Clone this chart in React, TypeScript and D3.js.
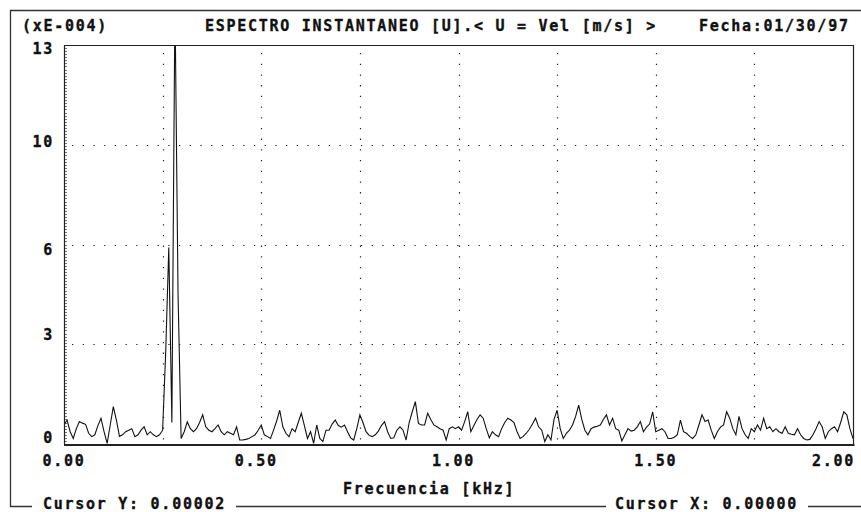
import React, { useEffect, useRef } from "react";
import * as d3 from "d3";

// amplitude of the spectrum, (xE-004), one value every 2/256 kHz
const amplitude: number[] = [
  0.62, 0.78, 0.4, 0.18, 0.5, 0.73, 0.68, 0.64, 0.35, 0.24,
  0.3, 0.6, 0.84, 0.4, 0.02, 0.62, 1.22, 0.78, 0.25, 0.3,
  0.4, 0.45, 0.5, 0.24, 0.3, 0.45, 0.56, 0.3, 0.4, 0.3,
  0.24, 0.3, 0.45, 3.0, 6.4, 0.7, 14.5, 4.9, 0.18, 0.4,
  0.72, 0.5, 0.4, 0.5, 0.7, 0.95, 0.56, 0.45, 0.4, 0.5,
  0.62, 0.4, 0.3, 0.4, 0.35, 0.3, 0.56, 0.13, 0.13, 0.15,
  0.18, 0.24, 0.3, 0.45, 0.62, 0.3, 0.24, 0.18, 0.45, 0.75,
  1.1, 0.56, 0.35, 0.24, 0.5, 0.4, 0.7, 1.0, 0.6, 0.18,
  0.4, 0.02, 0.62, 0.18, 0.08, 0.45, 0.45, 0.65, 0.78, 0.6,
  0.55, 0.62, 0.4, 0.2, 0.13, 0.5, 0.95, 0.7, 0.4, 0.28,
  0.24, 0.3, 0.42, 0.6, 0.73, 0.4, 0.18, 0.2, 0.45, 0.56,
  0.45, 0.13, 0.7, 1.05, 1.38, 0.67, 0.62, 0.62, 1.0, 0.8,
  0.62, 0.56, 0.5, 0.45, 0.13, 0.5, 0.56, 0.5, 0.56, 0.45,
  0.73, 1.05, 0.4, 0.6, 0.8, 0.95, 0.84, 0.5, 0.2, 0.4,
  0.3, 0.24, 0.5, 0.7, 0.84, 0.78, 0.7, 0.4, 0.18, 0.25,
  0.35, 0.48, 0.65, 0.84, 0.56, 0.45, 0.08, 0.3, 0.13, 0.8,
  1.1, 0.5, 0.18, 0.35, 0.45, 0.62, 0.9, 1.27, 0.8, 0.45,
  0.3, 0.5, 0.55, 0.58, 0.62, 0.8, 0.95, 0.62, 0.84, 0.5,
  0.45, 0.1, 0.3, 0.5, 0.42, 0.45, 0.56, 0.73, 0.4, 0.55,
  0.65, 1.05, 0.4, 0.45, 0.5, 0.4, 0.18, 0.18, 0.22, 0.3,
  0.78, 0.4, 0.35, 0.25, 0.18, 0.3, 0.62, 0.95, 0.73, 0.78,
  0.45, 0.18, 0.4, 0.55, 0.62, 1.05, 0.84, 0.5, 0.3, 0.9,
  0.5, 0.3, 0.18, 0.5, 0.4, 0.62, 0.45, 0.84, 0.5, 0.56,
  0.4, 0.5, 0.4, 0.35, 0.56, 0.35, 0.32, 0.3, 0.5, 0.3,
  0.18, 0.13, 0.15, 0.3, 0.5, 0.73, 0.56, 0.18, 0.4, 0.5,
  0.56, 0.4, 0.7, 1.05, 0.95, 0.5, 0.18,
];
const freqMax = 2;
const ampMax = 13;

const yGridValues = [0, 3.25, 6.5, 9.75, 13];
const yTickLabels = ["0", "3", "6", "10", "13"];
const xGridValues = [0.25, 0.5, 0.75, 1, 1.25, 1.5, 1.75];
const xTickValues = [0, 0.5, 1, 1.5, 2];
const xTickLabels = ["0.00", "0.50", "1.00", "1.50", "2.00"];

const unitsLabel = "(xE-004)";
const title = "ESPECTRO INSTANTANEO [U].< U = Vel [m/s] >";
const dateLabel = "Fecha:01/30/97";
const xAxisTitle = "Frecuencia [kHz]";
const cursorY = "Cursor Y: 0.00002";
const cursorX = "Cursor X: 0.00000";

export default function App() {
  const ref = useRef<SVGSVGElement>(null);

  useEffect(() => {
    const width = 861;
    const height = 512;
    const plot = { left: 64, right: 853, top: 45, bottom: 444 };
    const cw = 10.76; // char cell width
    const font = "'DejaVu Sans Mono', monospace";

    const svg = d3.select(ref.current).attr("width", width).attr("height", height);
    svg.selectAll("*").remove();
    svg.append("rect").attr("width", width).attr("height", height).attr("fill", "#fff");

    const x = d3.scaleLinear().domain([0, freqMax]).range([plot.left, plot.right]);
    const y = d3.scaleLinear().domain([0, ampMax]).range([plot.bottom, plot.top]);

    const text = (s: string, tx: number, ty: number) =>
      svg
        .append("text")
        .attr("x", tx)
        .attr("y", ty)
        .attr("font-family", font)
        .attr("font-weight", "bold")
        .attr("font-size", 15)
        .attr("letter-spacing", cw - 15 * 0.602)
        .attr("fill", "#111")
        .attr("stroke", "#111")
        .attr("stroke-width", 0.35)
        .text(s);

    // outer frame
    svg
      .append("path")
      .attr("d", `M${width},10.5 H10.5 V506.5 H32 M236,506.5 H606 M808,506.5 H${width}`)
      .attr("fill", "none")
      .attr("stroke", "#333")
      .attr("stroke-width", 1.3);

    // dotted grid
    const grid = svg.append("g").attr("stroke", "#222").attr("stroke-width", 1.2).attr("stroke-dasharray", "1.3 9.4");
    grid
      .selectAll(".gx")
      .data(xGridValues)
      .join("line")
      .attr("x1", (d) => Math.round(x(d)) + 0.5)
      .attr("x2", (d) => Math.round(x(d)) + 0.5)
      .attr("y1", plot.top + 8)
      .attr("y2", plot.bottom);
    grid
      .selectAll(".gy")
      .data(yGridValues.slice(1, -1))
      .join("line")
      .attr("x1", plot.left + 8)
      .attr("x2", plot.right)
      .attr("y1", (d) => Math.round(y(d)) + 0.5)
      .attr("y2", (d) => Math.round(y(d)) + 0.5);

    // small ruler ticks on the left axis
    svg
      .append("g")
      .selectAll("line")
      .data(d3.range(0, ampMax, 0.1))
      .join("line")
      .attr("x1", plot.left)
      .attr("x2", plot.left + 3)
      .attr("y1", (d) => Math.round(y(d)) + 0.5)
      .attr("y2", (d) => Math.round(y(d)) + 0.5)
      .attr("stroke", "#555")
      .attr("stroke-width", 0.8);

    // data
    svg
      .append("clipPath")
      .attr("id", "plotclip")
      .append("rect")
      .attr("x", plot.left)
      .attr("y", plot.top)
      .attr("width", plot.right - plot.left)
      .attr("height", plot.bottom - plot.top);
    const step = freqMax / (amplitude.length - 1);
    const line = d3
      .line<number>()
      .x((d, i) => x(i * step))
      .y((d) => y(d));
    svg
      .append("path")
      .datum(amplitude)
      .attr("clip-path", "url(#plotclip)")
      .attr("d", line)
      .attr("fill", "none")
      .attr("stroke", "#111")
      .attr("stroke-width", 1.1);

    // plot box
    svg
      .append("path")
      .attr("d", `M${plot.left + 0.5},${plot.bottom} V${plot.top + 0.5} H${plot.right + 0.5} V${plot.bottom}`)
      .attr("fill", "none")
      .attr("stroke", "#222")
      .attr("stroke-width", 1.2);
    svg
      .append("line")
      .attr("x1", plot.left)
      .attr("x2", plot.right + 1.5)
      .attr("y1", plot.bottom + 1)
      .attr("y2", plot.bottom + 1)
      .attr("stroke", "#222")
      .attr("stroke-width", 2);

    // header
    text(unitsLabel, 22, 31);
    text(title, 205, 31);
    text(dateLabel, 699, 31);

    // y labels (the original puts them on text rows, not exactly on the grid)
    const yLabelShift = [-6, -9, 5, -3, 4];
    yGridValues.forEach((v, i) => {
      const s = yTickLabels[i];
      text(s, 54 - s.length * cw, y(v) + 5 + yLabelShift[i]);
    });

    // x labels
    xTickValues.forEach((v, i) => {
      const s = xTickLabels[i];
      let tx = x(v) - (s.length * cw) / 2;
      if (i === 1 || i === 2) tx -= 5;
      if (i === xTickValues.length - 1) tx = plot.right + 2 - s.length * cw;
      text(s, tx, 466);
    });

    text(xAxisTitle, 343, 494);
    text(cursorY, 43, 509);
    text(cursorX, 615, 509);
  }, []);

  return <svg ref={ref} style={{ position: "absolute", left: 0, top: 0 }} />;
}
